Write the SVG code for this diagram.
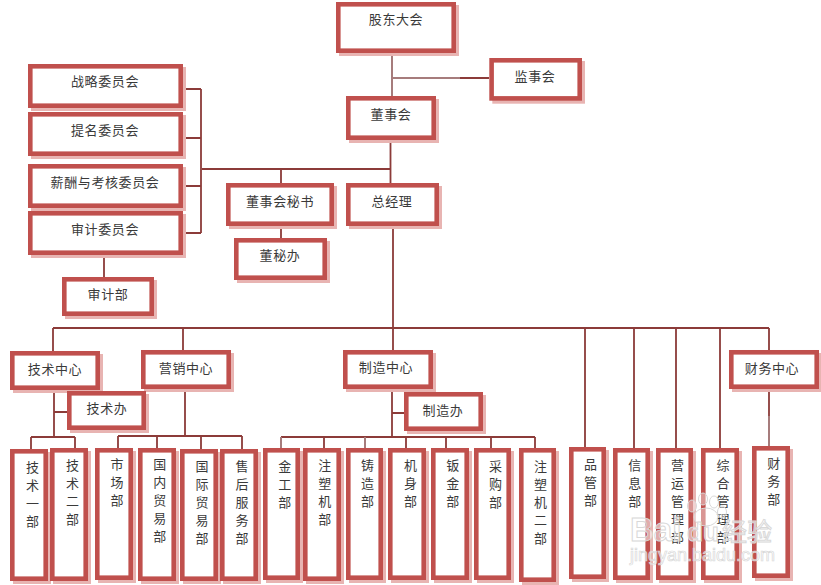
<svg xmlns="http://www.w3.org/2000/svg" width="821" height="585" viewBox="0 0 821 585">
<defs><style>
.s{fill:#e8b4b2}
.b{fill:#fff;stroke:#c0504d;stroke-width:4.6}
text{font-family:"Noto Sans CJK SC","Liberation Sans",sans-serif;font-size:13px;letter-spacing:.6px;fill:#3a3a3a;text-anchor:middle;transform:translateY(-1.5px)}
.h{dominant-baseline:central}
.c{fill:none;stroke:#8c3b39;stroke-width:1.8}
.l{fill:none;stroke:#a67c7c;stroke-width:2}
.w{font-family:"Liberation Sans",sans-serif;fill:#fff;fill-opacity:.55;stroke:#d8d8d8;stroke-width:1;text-anchor:start;letter-spacing:0}
.p{fill:#fff;fill-opacity:.4;stroke:#d8d8d8;stroke-width:1}
</style></defs>
<rect width="821" height="585" fill="#fff"/>
<g id="connectors">
<path class="l" d="M392 53V96M392 78H460"/>
<path class="c" d="M460 78H489M390.500 140V183M202 169H390.500M201 89V233M181 89H201M181 138H201M181 186H201M181 233H201M281 169V183M281 226V238M104 255V277M393 226V350M53 328H769M53 328V351M183 328V350M769 328V350M585 328V447M634 328V448M676 328V448M720 329V448M54 390V437M54 412H67M31 437H75M31 437V449M75 437V449M185 389V436M118 436H242M118 436V448M157 436V448M201 436V449M242 436V449M392 389V437M392 413H404M281 437H535M324 437V448M406 437V448M446 437V448M491 437V448M535 437V448M769 389V416"/>
<path class="l" d="M281 437V448M365 437V448M769 416V446"/>
</g>
<g id="n1"><rect class="s" x="339" y="5" width="120" height="51"/><rect class="b" x="338.300" y="4.300" width="115.400" height="46.400"/><text class="h" x="396" y="20">股东大会</text></g>
<g id="n2"><rect class="s" x="492.300" y="61" width="92.700" height="42.700"/><rect class="b" x="491.600" y="60.300" width="88.100" height="38.100"/><text class="h" x="535" y="77">监事会</text></g>
<g id="n3"><rect class="s" x="349" y="99" width="90" height="44"/><rect class="b" x="348.300" y="98.300" width="85.400" height="39.400"/><text class="h" x="391" y="115">董事会</text></g>
<g id="n4"><rect class="s" x="349" y="186" width="93" height="43"/><rect class="b" x="348.300" y="185.300" width="88.400" height="38.400"/><text class="h" x="392" y="202">总经理</text></g>
<g id="n5"><rect class="s" x="31" y="67" width="155" height="44"/><rect class="b" x="30.300" y="66.300" width="150.400" height="39.400"/><text class="h" x="105" y="82">战略委员会</text></g>
<g id="n6"><rect class="s" x="31" y="115" width="155" height="44"/><rect class="b" x="30.300" y="114.300" width="150.400" height="39.400"/><text class="h" x="105" y="131">提名委员会</text></g>
<g id="n7"><rect class="s" x="31" y="167" width="155" height="44"/><rect class="b" x="30.300" y="166.300" width="150.400" height="39.400"/><text class="h" x="105" y="183">薪酬与考核委员会</text></g>
<g id="n8"><rect class="s" x="31" y="214" width="155" height="44"/><rect class="b" x="30.300" y="213.300" width="150.400" height="39.400"/><text class="h" x="105" y="230">审计委员会</text></g>
<g id="n9"><rect class="s" x="65" y="280" width="92" height="39"/><rect class="b" x="64.300" y="279.300" width="87.400" height="34.400"/><text class="h" x="108" y="295">审计部</text></g>
<g id="n10"><rect class="s" x="229" y="186" width="108" height="43"/><rect class="b" x="228.300" y="185.300" width="103.400" height="38.400"/><text class="h" x="280" y="202">董事会秘书</text></g>
<g id="n11"><rect class="s" x="237" y="241" width="93" height="42"/><rect class="b" x="236.300" y="240.300" width="88.400" height="37.400"/><text class="h" x="280" y="256">董秘办</text></g>
<g id="n12"><rect class="s" x="13" y="354" width="90" height="39"/><rect class="b" x="12.300" y="353.300" width="85.400" height="34.400"/><text class="h" x="55" y="370">技术中心</text></g>
<g id="n13"><rect class="s" x="144" y="353" width="90" height="39"/><rect class="b" x="143.300" y="352.300" width="85.400" height="34.400"/><text class="h" x="186" y="369">营销中心</text></g>
<g id="n14"><rect class="s" x="346" y="353" width="90" height="39"/><rect class="b" x="345.300" y="352.300" width="85.400" height="34.400"/><text class="h" x="386" y="368">制造中心</text></g>
<g id="n15"><rect class="s" x="732" y="353" width="90" height="39"/><rect class="b" x="731.300" y="352.300" width="85.400" height="34.400"/><text class="h" x="772" y="369">财务中心</text></g>
<g id="n16"><rect class="s" x="70" y="394" width="79" height="39"/><rect class="b" x="69.300" y="393.300" width="74.400" height="34.400"/><text class="h" x="107" y="409">技术办</text></g>
<g id="n17"><rect class="s" x="407" y="395" width="79" height="39"/><rect class="b" x="406.300" y="394.300" width="74.400" height="34.400"/><text class="h" x="443" y="411">制造办</text></g>
<g id="v1"><rect class="s" x="13" y="452" width="38" height="132"/><rect class="b" x="12.300" y="451.300" width="33.400" height="127.400"/><text x="32.700" y="473">技<tspan x="32.700" dy="18">术</tspan><tspan x="32.700" dy="18">一</tspan><tspan x="32.700" dy="18">部</tspan></text></g>
<g id="v2"><rect class="s" x="53" y="451" width="38" height="133"/><rect class="b" x="52.300" y="450.300" width="33.400" height="128.400"/><text x="72.700" y="471">技<tspan x="72.700" dy="18">术</tspan><tspan x="72.700" dy="18">二</tspan><tspan x="72.700" dy="18">部</tspan></text></g>
<g id="v3"><rect class="s" x="98" y="451" width="38" height="132"/><rect class="b" x="97.300" y="450.300" width="33.400" height="127.400"/><text x="117.300" y="470">市<tspan x="117.300" dy="18">场</tspan><tspan x="117.300" dy="18">部</tspan></text></g>
<g id="v4"><rect class="s" x="141" y="451" width="38" height="133"/><rect class="b" x="140.300" y="450.300" width="33.400" height="128.400"/><text x="160" y="470">国<tspan x="160" dy="18">内</tspan><tspan x="160" dy="18">贸</tspan><tspan x="160" dy="18">易</tspan><tspan x="160" dy="18">部</tspan></text></g>
<g id="v5"><rect class="s" x="183" y="452" width="38" height="132"/><rect class="b" x="182.300" y="451.300" width="33.400" height="127.400"/><text x="202.300" y="472">国<tspan x="202.300" dy="18">际</tspan><tspan x="202.300" dy="18">贸</tspan><tspan x="202.300" dy="18">易</tspan><tspan x="202.300" dy="18">部</tspan></text></g>
<g id="v6"><rect class="s" x="223" y="452" width="38" height="132"/><rect class="b" x="222.300" y="451.300" width="33.400" height="127.400"/><text x="242.300" y="472">售<tspan x="242.300" dy="18">后</tspan><tspan x="242.300" dy="18">服</tspan><tspan x="242.300" dy="18">务</tspan><tspan x="242.300" dy="18">部</tspan></text></g>
<g id="v7"><rect class="s" x="266" y="451" width="37" height="132"/><rect class="b" x="265.300" y="450.300" width="32.400" height="127.400"/><text x="285" y="472">金<tspan x="285" dy="18">工</tspan><tspan x="285" dy="18">部</tspan></text></g>
<g id="v8"><rect class="s" x="306" y="451" width="38" height="133"/><rect class="b" x="305.300" y="450.300" width="33.400" height="128.400"/><text x="325" y="471">注<tspan x="325" dy="18">塑</tspan><tspan x="325" dy="18">机</tspan><tspan x="325" dy="18">部</tspan></text></g>
<g id="v9"><rect class="s" x="349" y="451" width="37" height="132"/><rect class="b" x="348.300" y="450.300" width="32.400" height="127.400"/><text x="367.700" y="471">铸<tspan x="367.700" dy="18">造</tspan><tspan x="367.700" dy="18">部</tspan></text></g>
<g id="v10"><rect class="s" x="391" y="451" width="38" height="132"/><rect class="b" x="390.300" y="450.300" width="33.400" height="127.400"/><text x="410.700" y="471">机<tspan x="410.700" dy="18">身</tspan><tspan x="410.700" dy="18">部</tspan></text></g>
<g id="v11"><rect class="s" x="434" y="451" width="38" height="132"/><rect class="b" x="433.300" y="450.300" width="33.400" height="127.400"/><text x="453" y="471">钣<tspan x="453" dy="18">金</tspan><tspan x="453" dy="18">部</tspan></text></g>
<g id="v12"><rect class="s" x="477" y="451" width="37" height="132"/><rect class="b" x="476.300" y="450.300" width="32.400" height="127.400"/><text x="495.700" y="472">采<tspan x="495.700" dy="18">购</tspan><tspan x="495.700" dy="18">部</tspan></text></g>
<g id="v13"><rect class="s" x="522" y="451" width="37" height="134"/><rect class="b" x="521.300" y="450.300" width="32.400" height="129.400"/><text x="540.700" y="472">注<tspan x="540.700" dy="18">塑</tspan><tspan x="540.700" dy="18">机</tspan><tspan x="540.700" dy="18">二</tspan><tspan x="540.700" dy="18">部</tspan></text></g>
<g id="v14"><rect class="s" x="572" y="450" width="37" height="132"/><rect class="b" x="571.300" y="449.300" width="32.400" height="127.400"/><text x="590.700" y="470">品<tspan x="590.700" dy="18">管</tspan><tspan x="590.700" dy="18">部</tspan></text></g>
<g id="v15"><rect class="s" x="616" y="451" width="37" height="132"/><rect class="b" x="615.300" y="450.300" width="32.400" height="127.400"/><text x="635" y="471">信<tspan x="635" dy="18">息</tspan><tspan x="635" dy="18">部</tspan></text></g>
<g id="v16"><rect class="s" x="659" y="451" width="37" height="132"/><rect class="b" x="658.300" y="450.300" width="32.400" height="127.400"/><text x="677.700" y="471">营<tspan x="677.700" dy="18">运</tspan><tspan x="677.700" dy="18">管</tspan><tspan x="677.700" dy="18">理</tspan><tspan x="677.700" dy="18">部</tspan></text></g>
<g id="v17"><rect class="s" x="704" y="451" width="38" height="132"/><rect class="b" x="703.300" y="450.300" width="33.400" height="127.400"/><text x="723.300" y="471">综<tspan x="723.300" dy="18">合</tspan><tspan x="723.300" dy="18">管</tspan><tspan x="723.300" dy="18">理</tspan><tspan x="723.300" dy="18">部</tspan></text></g>
<g id="v18"><rect class="s" x="755" y="449" width="38" height="132"/><rect class="b" x="754.300" y="448.300" width="33.400" height="127.400"/><text x="774" y="469">财<tspan x="774" dy="18">务</tspan><tspan x="774" dy="18">部</tspan></text></g>
<g id="watermark">
<ellipse class="p" cx="692" cy="506" rx="4.500" ry="6"/><ellipse class="p" cx="703" cy="499" rx="4.500" ry="6"/><ellipse class="p" cx="714" cy="502" rx="4.500" ry="6"/><ellipse class="p" cx="722" cy="512" rx="4.500" ry="6"/><ellipse class="p" cx="706" cy="517" rx="12" ry="9"/>
<text class="w" x="630" y="542" style="font-size:33px;font-weight:bold">Bai</text>
<text class="w" x="687" y="542" style="font-size:26px;font-weight:bold">du</text>
<text class="w" x="722" y="542" style="font-size:25px;font-family:'Noto Sans CJK SC',sans-serif">经验</text>
<text class="w" x="630" y="562" style="font-size:18px;stroke-width:.7">jingyan.baidu.com</text>
</g>
</svg>
